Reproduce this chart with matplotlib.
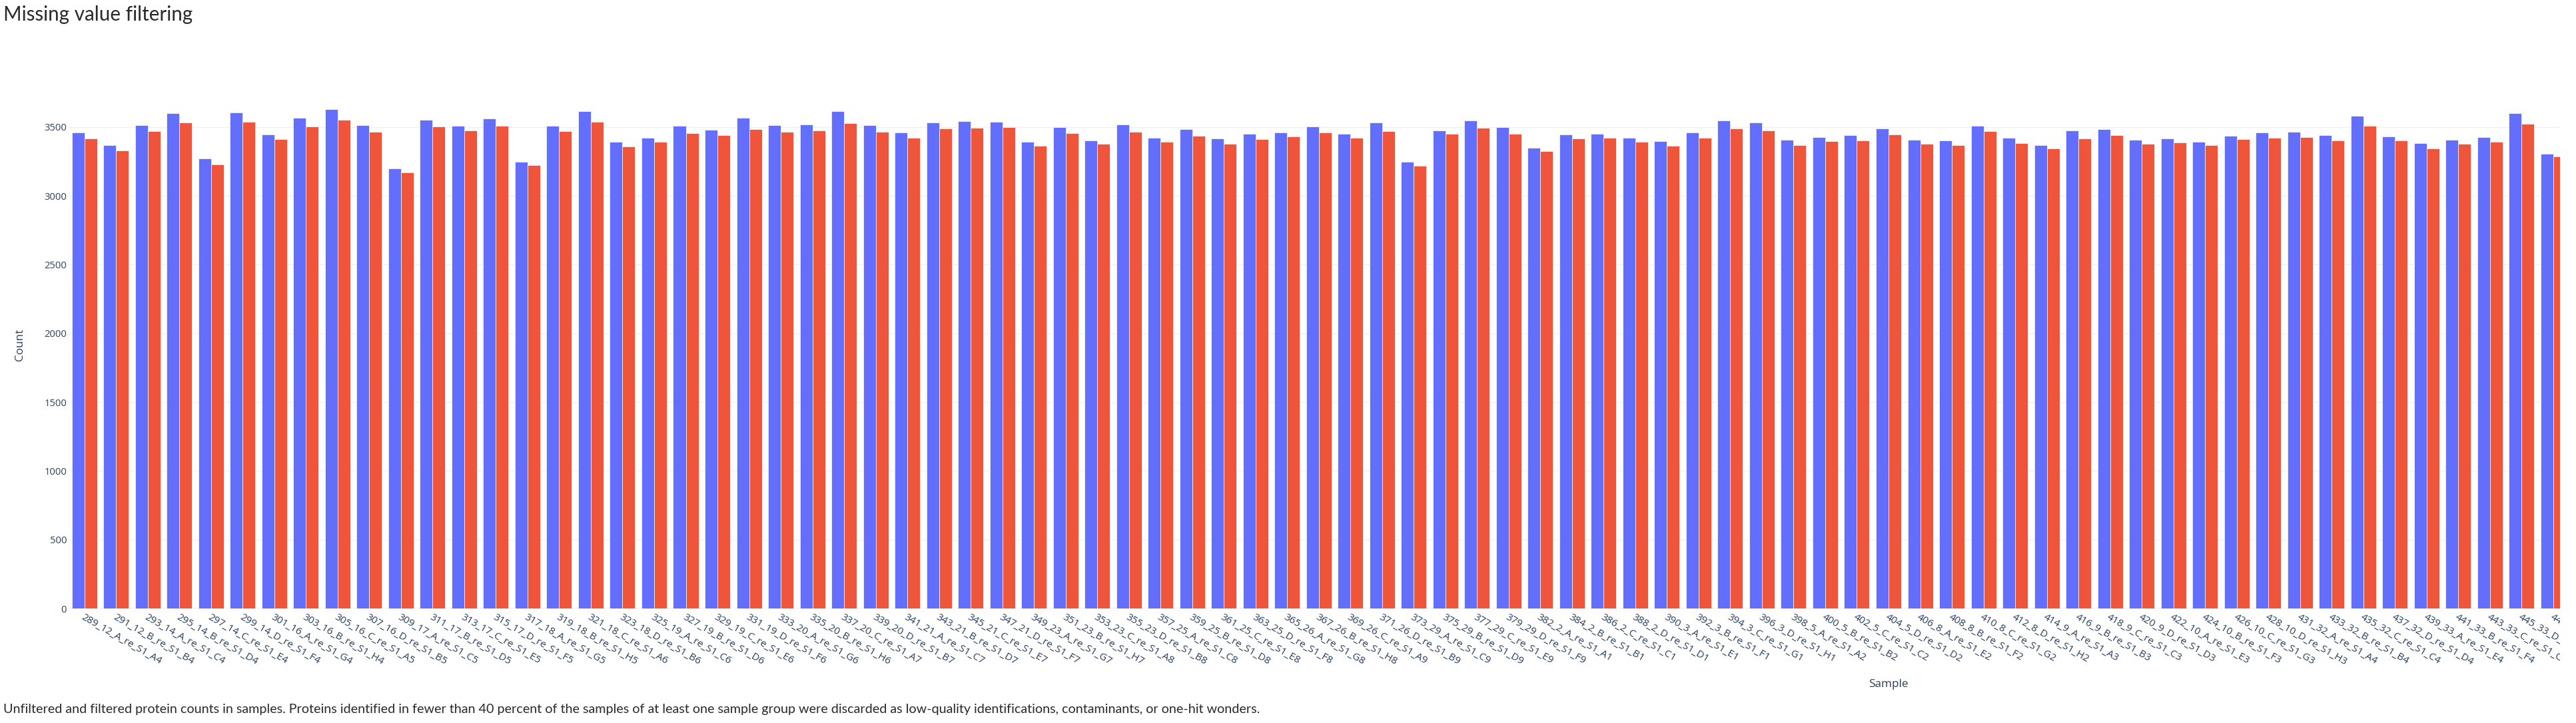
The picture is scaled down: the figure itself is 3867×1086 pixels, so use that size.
import numpy as np
import matplotlib
matplotlib.use("Agg")
import matplotlib.pyplot as plt
from matplotlib.patches import Rectangle

# ---- data ----
samples = [
    "289_12_A_re_S1_A4", "291_12_B_re_S1_B4", "293_14_A_re_S1_C4", "295_14_B_re_S1_D4",
    "297_14_C_re_S1_E4", "299_14_D_re_S1_F4", "301_16_A_re_S1_G4", "303_16_B_re_S1_H4",
    "305_16_C_re_S1_A5", "307_16_D_re_S1_B5", "309_17_A_re_S1_C5", "311_17_B_re_S1_D5",
    "313_17_C_re_S1_E5", "315_17_D_re_S1_F5", "317_18_A_re_S1_G5", "319_18_B_re_S1_H5",
    "321_18_C_re_S1_A6", "323_18_D_re_S1_B6", "325_19_A_re_S1_C6", "327_19_B_re_S1_D6",
    "329_19_C_re_S1_E6", "331_19_D_re_S1_F6", "333_20_A_re_S1_G6", "335_20_B_re_S1_H6",
    "337_20_C_re_S1_A7", "339_20_D_re_S1_B7", "341_21_A_re_S1_C7", "343_21_B_re_S1_D7",
    "345_21_C_re_S1_E7", "347_21_D_re_S1_F7", "349_23_A_re_S1_G7", "351_23_B_re_S1_H7",
    "353_23_C_re_S1_A8", "355_23_D_re_S1_B8", "357_25_A_re_S1_C8", "359_25_B_re_S1_D8",
    "361_25_C_re_S1_E8", "363_25_D_re_S1_F8", "365_26_A_re_S1_G8", "367_26_B_re_S1_H8",
    "369_26_C_re_S1_A9", "371_26_D_re_S1_B9", "373_29_A_re_S1_C9", "375_29_B_re_S1_D9",
    "377_29_C_re_S1_E9", "379_29_D_re_S1_F9", "382_2_A_re_S1_A1", "384_2_B_re_S1_B1",
    "386_2_C_re_S1_C1", "388_2_D_re_S1_D1", "390_3_A_re_S1_E1", "392_3_B_re_S1_F1",
    "394_3_C_re_S1_G1", "396_3_D_re_S1_H1", "398_5_A_re_S1_A2", "400_5_B_re_S1_B2",
    "402_5_C_re_S1_C2", "404_5_D_re_S1_D2", "406_8_A_re_S1_E2", "408_8_B_re_S1_F2",
    "410_8_C_re_S1_G2", "412_8_D_re_S1_H2", "414_9_A_re_S1_A3", "416_9_B_re_S1_B3",
    "418_9_C_re_S1_C3", "420_9_D_re_S1_D3", "422_10_A_re_S1_E3", "424_10_B_re_S1_F3",
    "426_10_C_re_S1_G3", "428_10_D_re_S1_H3", "431_32_A_re_S1_A4", "433_32_B_re_S1_B4",
    "435_32_C_re_S1_C4", "437_32_D_re_S1_D4", "439_33_A_re_S1_E4", "441_33_B_re_S1_F4",
    "443_33_C_re_S1_G4", "445_33_D_re_S1_H4", "447_34_A_re_S1_A5",
]

unfiltered = [
    3458, 3368, 3514, 3601, 3270, 3606, 3444, 3569, 3629, 3513,
    3198, 3554, 3510, 3561, 3246, 3510, 3617, 3395, 3423, 3508,
    3479, 3568, 3513, 3519, 3613, 3516, 3461, 3535, 3542, 3540,
    3391, 3498, 3400, 3518, 3421, 3484, 3415, 3452, 3459, 3502,
    3452, 3535, 3246, 3477, 3547, 3500, 3349, 3444, 3449, 3423,
    3397, 3458, 3548, 3531, 3405, 3426, 3439, 3487, 3407, 3402,
    3508, 3420, 3367, 3477, 3484, 3407, 3416, 3392, 3437, 3458,
    3463, 3441, 3580, 3431, 3381, 3405, 3426, 3600, 3307,
]

filtered = [
    3415, 3331, 3468, 3534, 3230, 3537, 3410, 3503, 3551, 3465,
    3172, 3502, 3474, 3508, 3225, 3468, 3539, 3360, 3394, 3455,
    3442, 3484, 3465, 3476, 3526, 3465, 3424, 3487, 3492, 3500,
    3363, 3457, 3376, 3463, 3395, 3437, 3379, 3413, 3429, 3461,
    3423, 3469, 3220, 3453, 3494, 3453, 3325, 3415, 3421, 3392,
    3363, 3424, 3489, 3474, 3367, 3399, 3404, 3444, 3379, 3366,
    3468, 3381, 3342, 3419, 3440, 3378, 3386, 3367, 3413, 3420,
    3428, 3404, 3511, 3404, 3344, 3379, 3394, 3523, 3285,
]

y_ticks = [0, 500, 1000, 1500, 2000, 2500, 3000, 3500]

# the original plot holds more samples than fit the screenshot; it is cut at the right
n_categories_total = 115

W, H = 3867, 1086
TICK_COLOR = "#2a3f5f"
GRID_COLOR = "#EBF0F8"

fig = plt.figure(figsize=(W / 100, H / 100), dpi=100)
fig.patch.set_facecolor("white")

# axes in pixel terms: left 103, bottom 914, top 122, right end ~5567 (off the picture)
left_px, right_px, top_px, bottom_px = 103, 5567, 122, 914
ax = fig.add_axes([left_px / W, (H - bottom_px) / H,
                   (right_px - left_px) / W, (bottom_px - top_px) / H])
ax.set_facecolor("white")

x = np.arange(len(samples))
ax.bar(x - 0.2, unfiltered, width=0.4, color="#636EFA", edgecolor="white",
       linewidth=0.5, zorder=3)
ax.bar(x + 0.2, filtered, width=0.4, color="#EF553B", edgecolor="white",
       linewidth=0.5, zorder=3)

ax.set_xlim(-0.5, n_categories_total - 0.5)
ax.set_ylim(0, 3833)

ax.set_yticks(y_ticks)
ax.set_yticklabels([str(v) for v in y_ticks], fontfamily="Open Sans",
                   fontsize=10.6, color=TICK_COLOR)
ax.yaxis.grid(True, color=GRID_COLOR, linewidth=0.9, zorder=0)
ax.axhline(0, color=GRID_COLOR, linewidth=1.6, zorder=1)
ax.tick_params(axis="y", length=0, pad=2)

ax.set_xticks(x)
ax.set_xticklabels(samples, rotation=-30, ha="left", va="top",
                   rotation_mode="anchor", fontfamily="Open Sans",
                   fontsize=11, color=TICK_COLOR)
ax.tick_params(axis="x", length=0, pad=4)

for s in ax.spines.values():
    s.set_visible(False)

ax.set_ylabel("Count", fontfamily="Open Sans", fontsize=12.3, color=TICK_COLOR)
ax.yaxis.set_label_coords(-(left_px - 38) / (right_px - left_px), 0.5)
ax.set_xlabel("Sample", fontfamily="Open Sans", fontsize=12.3, color=TICK_COLOR,
              va="center")
ax.xaxis.set_label_coords(0.5, -(1028 - bottom_px) / (bottom_px - top_px))

fig.text(5 / W, 1 - 22 / H, "Missing value filtering", fontfamily="Lato",
         fontsize=21.3, color="#2a2a2a", ha="left", va="center")
fig.text(5 / W, 1 - 1065 / H,
         "Unfiltered and filtered protein counts in samples. Proteins identified in fewer "
         "than 40 percent of the samples of at least one sample group were discarded as "
         "low-quality identifications, contaminants, or one-hit wonders.",
         fontfamily="Lato", fontsize=14.2, color="#2a2a2a", ha="left", va="center")

# blank strip where the screenshot cut the plot
fig.add_artist(Rectangle((3843 / W, 0), 1, 1, transform=fig.transFigure,
                         facecolor="white", edgecolor="none", zorder=10))

fig.savefig("out.png", dpi=100)
